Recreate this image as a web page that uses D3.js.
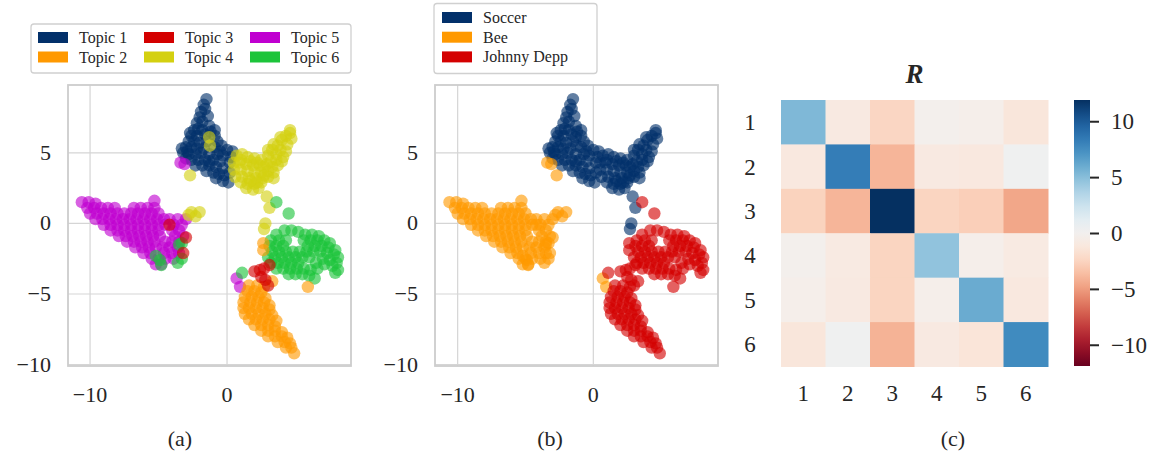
<!DOCTYPE html>
<meta charset="utf-8">
<script src="https://d3js.org/d3.v7.min.js"></script>
<style>
  body { margin: 0; background: #fff; }
  text { font-family: "Liberation Serif", serif; fill: #262626; }
</style>
<div id="fig"></div>
<script>

// ---- data ----
// 2D embedding of the documents, grouped by document class and dominant topic
var soccerTopic1 = [[-1.5,8.8],[-1.7,8.4],[-1.6,8.1],[-1.9,7.9],[-2.0,7.5],[-1.8,7.2],[-2.2,7.1],[-1.3,6.9],[-2.1,6.7],[-2.4,6.6],[-1.8,6.6],[-0.9,6.6],
  [-2.6,6.2],[-2.2,6.2],[-1.6,6.3],[-1.2,6.5],[-0.9,6.2],[-2.8,5.8],[-2.4,5.8],[-2.0,5.7],[-1.5,5.8],[-0.7,5.8],[-0.4,5.5],
  [-3.0,5.4],[-2.6,5.4],[-2.2,5.3],[-1.7,5.3],[-0.9,5.4],[0.0,5.2],[0.4,5.1],[-3.2,5.0],[-2.8,4.9],[-2.3,4.9],[-1.3,4.9],[-0.7,4.9],
  [-0.3,4.8],[0.3,4.7],[-3.0,4.6],[-2.6,4.5],[-2.1,4.5],[-1.6,4.5],[-1.0,4.5],[-0.5,4.4],[0.2,4.3],[-2.3,4.1],[-1.8,4.1],[-1.3,4.1],
  [-0.8,4.0],[-0.3,3.9],[-1.5,3.7],[-1.0,3.6],[-0.6,3.5],[-0.2,3.4],[-0.8,3.2],[-0.3,3.0],[0.1,2.9],
  [-2.9,5.1],[-1.9,5.0],[-0.5,5.1],[-1.3,4.4],[-2.7,6.4],[-1.4,7.6],[0.2,3.6],[-3.3,5.3]];
var soccerTopic4 = [[0.7,4.8],[1.1,4.9],[1.5,4.7],[2.0,4.6],[2.5,4.5],[3.0,4.8],[3.0,5.2],[3.4,5.6],[3.3,5.2],[3.7,5.5],[4.0,5.9],[4.3,6.2],
  [4.6,6.4],[4.7,6.0],[4.4,5.6],[4.3,5.1],[4.1,4.7],[3.6,4.5],[0.5,4.3],[0.9,4.3],[1.4,4.2],[1.9,4.1],[2.4,4.1],[2.9,4.2],[3.3,4.0],
  [3.7,4.1],[0.5,3.8],[1.0,3.8],[1.5,3.7],[2.0,3.6],[2.5,3.6],[3.0,3.7],[3.4,3.6],[0.6,3.3],[1.1,3.3],[1.6,3.2],[2.1,3.2],[2.6,3.2],
  [3.0,3.3],[1.0,2.9],[1.5,2.8],[2.0,2.8],[2.5,2.9],[1.4,2.5],[1.9,2.4],[2.3,2.5],[2.9,1.9],[3.1,1.1],[2.8,0.0],[2.7,-0.4],
  [-1.3,6.1],[-1.25,5.5],[1.0,4.5],[1.7,4.4],[2.2,4.3],[2.7,4.0],[3.2,4.4],[3.6,4.9],[3.9,5.2],[2.7,3.4],[2.2,2.9],[1.7,3.0],
  [3.4,3.2],[4.0,4.4],[3.9,6.1],[4.6,6.6]];
var beeTopic5 = [[-10.6,1.5],[-10.1,1.5],[-9.6,1.4],[-5.3,1.6],[-10.2,1.1],[-9.7,1.1],[-9.2,1.1],[-8.7,1.1],[-8.2,1.1],[-6.8,1.1],
  [-6.3,1.1],[-5.8,1.1],[-5.3,1.1],[-10.0,0.7],[-9.5,0.7],[-9.0,0.7],[-8.5,0.7],[-8.0,0.7],[-7.5,0.7],[-7.0,0.7],[-6.5,0.7],[-6.0,0.7],
  [-5.5,0.7],[-5.0,0.7],[-9.6,0.3],[-9.1,0.3],[-8.6,0.3],[-8.1,0.3],[-7.6,0.3],[-7.1,0.3],[-6.6,0.3],[-6.1,0.3],[-5.6,0.3],[-5.1,0.3],
  [-4.6,0.3],[-4.2,0.3],[-3.6,0.3],[-3.0,0.3],[-9.0,-0.1],[-8.5,-0.1],[-8.0,-0.1],[-7.5,-0.1],[-7.0,-0.1],[-6.5,-0.1],[-6.0,-0.1],
  [-5.5,-0.1],[-5.0,-0.1],[-4.5,-0.1],[-3.9,-0.1],[-3.3,-0.1],[-8.5,-0.5],[-8.0,-0.5],[-7.5,-0.5],[-7.0,-0.5],[-6.5,-0.5],[-6.0,-0.5],
  [-5.5,-0.5],[-5.0,-0.5],[-4.0,-0.5],[-3.5,-0.5],[-7.9,-0.9],[-7.4,-0.9],[-6.9,-0.9],[-6.4,-0.9],[-5.9,-0.9],[-5.4,-0.9],[-4.9,-0.9],
  [-3.8,-0.9],[-3.2,-0.9],[-7.3,-1.3],[-6.8,-1.3],[-6.3,-1.3],[-5.8,-1.3],[-5.3,-1.3],[-4.5,-1.3],[-4.0,-1.3],[-3.5,-1.3],[-6.7,-1.7],
  [-6.2,-1.7],[-5.7,-1.7],[-5.2,-1.7],[-4.7,-1.7],[-4.2,-1.7],[-3.6,-1.7],[-6.1,-2.1],[-5.6,-2.1],[-4.6,-2.1],[-4.0,-2.1],[-3.5,-2.1],
  [-5.5,-2.5],[-5.0,-2.5],[-4.5,-2.5],[-3.9,-2.5],[-5.2,-2.9],[-4.8,-2.9],[-3.4,4.3],[-3.1,4.2],[0.7,-3.9],[0.95,-4.5]];
var beeTopic6 = [[-5.2,-2.3],[-4.9,-2.6],[-4.8,-2.95],[-3.6,-2.8],[-3.3,-2.5],[-3.5,-1.5],[-3.3,-1.4]];
var beeTopic3 = [[-4.2,-0.1],[-3.0,-1.0],[-3.2,-2.1]];
var beeTopic4 = [[-2.6,0.8],[-2.0,0.8],[-2.3,0.5],[-2.8,0.6],[-2.7,3.4]];
var deppTopic6 = [[4.2,-0.5],[4.7,-0.5],[5.2,-0.6],[3.6,-0.8],[5.7,-0.8],[6.2,-0.8],[6.7,-0.9],[3.2,-1.2],[3.8,-1.2],[4.3,-1.2],
  [5.6,-1.2],[6.1,-1.2],[6.6,-1.2],[7.1,-1.2],[7.5,-1.4],[3.1,-1.6],[3.6,-1.6],[4.1,-1.6],[5.9,-1.6],[6.4,-1.6],[6.9,-1.6],[7.4,-1.7],
  [7.9,-1.9],[3.3,-2.0],[3.8,-2.0],[4.3,-2.0],[4.8,-2.0],[5.3,-2.0],[5.8,-2.0],[6.3,-2.0],[6.8,-2.0],[7.3,-2.1],[7.8,-2.2],[8.1,-2.4],
  [3.0,-2.4],[3.5,-2.4],[4.0,-2.4],[4.5,-2.4],[5.0,-2.4],[5.5,-2.4],[6.0,-2.4],[7.0,-2.5],[7.5,-2.6],[8.0,-2.8],[3.2,-2.8],[3.7,-2.8],
  [4.2,-2.8],[4.7,-2.8],[5.2,-2.8],[6.5,-2.8],[7.1,-2.9],[7.7,-3.0],[8.1,-3.3],[3.6,-3.2],[4.1,-3.2],[4.6,-3.2],[5.1,-3.2],[5.6,-3.2],
  [6.1,-3.3],[6.6,-3.2],[7.9,-3.5],[4.5,-3.6],[5.0,-3.6],[5.5,-3.6],[6.0,-3.7],[6.4,-3.9],[3.6,1.5],[4.5,0.7],[1.1,-3.5]];
var deppTopic2 = [[1.6,-4.4],[2.2,-4.4],[2.7,-4.5],[1.5,-4.8],[2.0,-4.8],[2.5,-4.9],[1.3,-5.2],[1.8,-5.2],[2.3,-5.2],[2.8,-5.3],
  [1.2,-5.6],[1.7,-5.6],[2.2,-5.6],[2.7,-5.6],[3.1,-5.8],[1.2,-6.0],[1.6,-6.0],[2.1,-6.0],[2.6,-6.0],[3.1,-6.1],[1.3,-6.4],[1.8,-6.4],
  [2.3,-6.4],[2.8,-6.4],[3.3,-6.5],[1.6,-6.8],[2.1,-6.8],[2.6,-6.8],[3.1,-6.8],[3.6,-6.9],[2.0,-7.2],[2.5,-7.2],[3.0,-7.2],[3.5,-7.3],
  [2.5,-7.6],[3.0,-7.6],[3.5,-7.6],[4.0,-7.7],[3.0,-8.0],[3.5,-8.0],[4.0,-8.0],[4.4,-8.1],[3.7,-8.4],[4.2,-8.4],[4.6,-8.5],[4.3,-8.8],
  [4.7,-8.8],[4.9,-9.2],[2.65,-1.4],[2.65,-1.9],[5.9,-4.5],[3.3,-4.1]];
var deppTopic3 = [[2.0,-3.4],[2.4,-3.3],[2.7,-3.2],[3.1,-2.95],[2.5,-3.8],[2.8,-4.0],[3.0,-4.4]];

var topicNames = ["Topic 1", "Topic 2", "Topic 3", "Topic 4", "Topic 5", "Topic 6"];
var topicColors = ["#02306a", "#ff9900", "#d40000", "#d4d010", "#c000d0", "#1cc43a"];
var docNames = ["Soccer", "Bee", "Johnny Depp"];
var docColors = ["#02306a", "#ff9900", "#d40000"];

// topic-topic matrix R
var rLabels = ["1", "2", "3", "4", "5", "6"];
var rValues = [
  [5.3, -1.0, -2.4, -0.2, -0.4, -1.3],
  [-1.1, 8.3, -4.0, -1.0, -1.1, 0.3],
  [-2.6, -4.0, 11.9, -2.5, -2.8, -4.6],
  [-0.2, -0.9, -2.5, 4.7, -0.4, -0.9],
  [-0.4, -1.0, -2.5, -0.4, 6.0, -1.1],
  [-1.3, 0.3, -4.1, -1.0, -1.4, 7.6]];
var scatterTicks = [-10, 0];
var scatterYTicks = [-10, -5, 0, 5];
var colorbarTicks = [-10, -5, 0, 5, 10];

// groups: [points, doc index, topic index]
var groups = [
  [soccerTopic1, 0, 0], [soccerTopic4, 0, 3],
  [beeTopic5, 1, 4], [beeTopic6, 1, 5], [beeTopic3, 1, 2], [beeTopic4, 1, 3],
  [deppTopic6, 2, 5], [deppTopic2, 2, 1], [deppTopic3, 2, 2]];

var minus = function(v) { return String(v).replace("-", "\u2212"); };

var svg = d3.select("#fig").append("svg")
  .attr("width", 1157).attr("height", 456)
  .style("background", "#fff");

function drawScatter(xDomain, xRange, colorOf, caption, capX) {
  var x = d3.scaleLinear().domain(xDomain).range(xRange);
  var y = d3.scaleLinear().domain([-10.1, 9.8]).range([366, 85]);
  var g = svg.append("g");

  // grid
  g.selectAll(".gx").data(scatterTicks).enter().append("line")
    .attr("x1", d => x(d)).attr("x2", d => x(d)).attr("y1", 85).attr("y2", 366)
    .attr("stroke", "#d5d5d5").attr("stroke-width", 1.2);
  g.selectAll(".gy").data(scatterYTicks).enter().append("line")
    .attr("x1", xRange[0]).attr("x2", xRange[1]).attr("y1", d => y(d)).attr("y2", d => y(d))
    .attr("stroke", "#d5d5d5").attr("stroke-width", 1.2);

  // points
  groups.forEach(function(grp) {
    g.append("g").selectAll("circle").data(grp[0]).enter().append("circle")
      .attr("cx", d => x(d[0])).attr("cy", d => y(d[1])).attr("r", 6.2)
      .attr("fill", colorOf(grp)).attr("fill-opacity", 0.62);
  });

  // frame
  g.append("rect").attr("x", xRange[0]).attr("y", 85)
    .attr("width", xRange[1] - xRange[0]).attr("height", 281)
    .attr("fill", "none").attr("stroke", "#cdcdcd").attr("stroke-width", 1.8);

  // tick labels
  g.selectAll(".tx").data(scatterTicks).enter().append("text")
    .attr("x", d => x(d)).attr("y", 402).attr("text-anchor", "middle")
    .attr("font-size", 22).text(minus);
  g.selectAll(".ty").data(scatterYTicks).enter().append("text")
    .attr("x", xRange[0] - 17).attr("y", d => y(d) + 7).attr("text-anchor", "end")
    .attr("font-size", 22).text(minus);

  svg.append("text").attr("x", capX).attr("y", 446).attr("text-anchor", "middle")
    .attr("font-size", 22).text(caption);
}

drawScatter([-11.61, 9.05], [68, 351], grp => topicColors[grp[2]], "(a)", 180);
drawScatter([-11.67, 9.19], [435, 718], grp => docColors[grp[1]], "(b)", 550);

// legend (a)
var legA = svg.append("g");
legA.append("rect").attr("x", 31).attr("y", 24).attr("width", 320).attr("height", 49)
  .attr("rx", 3).attr("fill", "#fff").attr("stroke", "#d0d0d0").attr("stroke-width", 1.3);
topicNames.forEach(function(name, i) {
  var col = Math.floor(i / 2), row = i % 2;
  var lx = 38 + col * 106, ly = 32 + row * 19.5;
  legA.append("rect").attr("x", lx).attr("y", ly).attr("width", 30).attr("height", 11)
    .attr("fill", topicColors[i]);
  legA.append("text").attr("x", lx + 41).attr("y", ly + 11).attr("font-size", 16).text(name);
});

// legend (b)
var legB = svg.append("g");
legB.append("rect").attr("x", 434).attr("y", 3.5).attr("width", 163).attr("height", 70)
  .attr("rx", 3).attr("fill", "#fff").attr("stroke", "#d0d0d0").attr("stroke-width", 1.3);
docNames.forEach(function(name, i) {
  var ly = 12 + i * 19.7;
  legB.append("rect").attr("x", 442).attr("y", ly).attr("width", 30).attr("height", 11)
    .attr("fill", docColors[i]);
  legB.append("text").attr("x", 483).attr("y", ly + 11).attr("font-size", 16).text(name);
});

// heatmap (c)
var hx = d3.scaleBand().domain(rLabels).range([781, 1048]);
var hy = d3.scaleBand().domain(rLabels).range([100, 366.5]);
var color = d3.scaleSequential(d3.interpolateRdBu).domain([-11.9, 11.9]);
var hm = svg.append("g");
rValues.forEach(function(row, i) {
  hm.selectAll(".r" + i).data(row).enter().append("rect")
    .attr("x", (d, j) => hx(rLabels[j])).attr("y", hy(rLabels[i]))
    .attr("width", hx.bandwidth() + 0.5).attr("height", hy.bandwidth() + 0.5)
    .attr("fill", d => color(d));
});
hm.selectAll(".rl").data(rLabels).enter().append("text")
  .attr("x", 750).attr("y", d => hy(d) + hy.bandwidth() / 2 + 8)
  .attr("text-anchor", "middle").attr("font-size", 23).text(d => d);
hm.selectAll(".cl").data(rLabels).enter().append("text")
  .attr("x", d => hx(d) + hx.bandwidth() / 2).attr("y", 401)
  .attr("text-anchor", "middle").attr("font-size", 23).text(d => d);
svg.append("text").attr("x", 914.5).attr("y", 83).attr("text-anchor", "middle")
  .attr("font-size", 27).attr("font-weight", "bold").attr("font-style", "italic").text("R");
svg.append("text").attr("x", 953).attr("y", 446).attr("text-anchor", "middle")
  .attr("font-size", 22).text("(c)");

// colorbar
var cb = d3.scaleLinear().domain([-11.9, 11.9]).range([366, 100]);
var grad = svg.append("defs").append("linearGradient").attr("id", "cbgrad")
  .attr("x1", 0).attr("y1", 1).attr("x2", 0).attr("y2", 0);
d3.range(0, 1.001, 0.05).forEach(function(t) {
  grad.append("stop").attr("offset", t).attr("stop-color", d3.interpolateRdBu(t));
});
svg.append("rect").attr("x", 1074).attr("y", 100).attr("width", 16).attr("height", 266)
  .attr("fill", "url(#cbgrad)");
var cbAxis = svg.append("g").attr("transform", "translate(1090,0)")
  .call(d3.axisRight(cb).tickValues(colorbarTicks).tickSize(9).tickPadding(12).tickFormat(minus));
cbAxis.select(".domain").remove();
cbAxis.selectAll(".tick line").attr("stroke", "#262626").attr("stroke-width", 2);
cbAxis.selectAll(".tick text").attr("font-size", 23)
  .style("font-family", "'Liberation Serif', serif").attr("fill", "#262626");

</script>
